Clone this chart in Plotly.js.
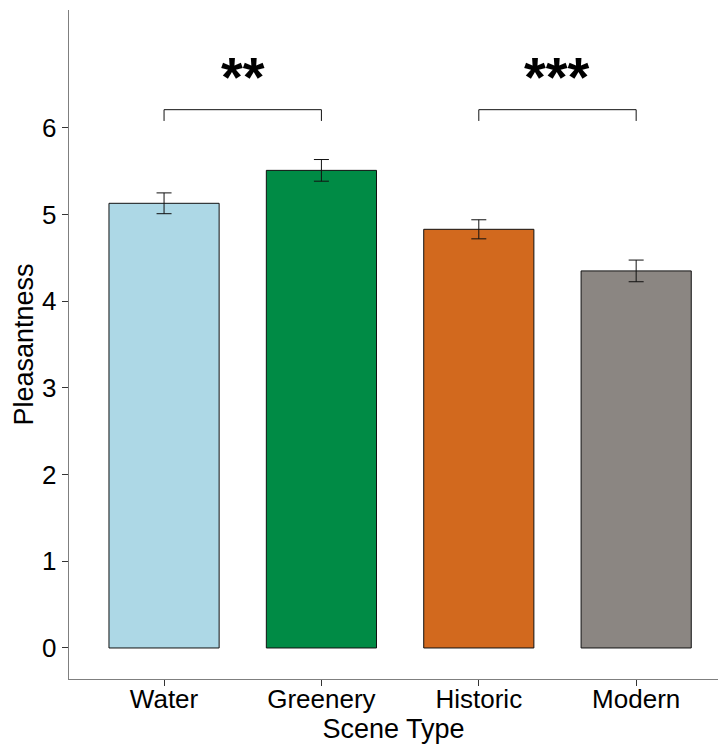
<!DOCTYPE html>
<html>
<head>
<meta charset="utf-8">
<script src="https://cdn.plot.ly/plotly-3.0.1.min.js"></script>
<style>
  html, body { margin: 0; padding: 0; background: #ffffff; }
  #chart { width: 718px; height: 744px; }
</style>
</head>
<body>
<div id="chart"></div>
<script>
// Mean pleasantness rating by scene type, with standard error
const categories = ["Water", "Greenery", "Historic", "Modern"];
const means = [5.13, 5.51, 4.83, 4.35];
const stdErrors = [0.12, 0.125, 0.11, 0.125];
const barColors = ["#ADD8E6", "#008B45", "#D2691E", "#8B8682"];

// Pairwise comparisons: [first index, second index, significance label]
const comparisons = [[0, 1, "**"], [2, 3, "***"]];
const bracketTop = 6.21;
const bracketFoot = 6.08;
const labelLevel = 6.595;

const yTicks = [0, 1, 2, 3, 4, 5, 6];

const font = "Liberation Sans, Arial, sans-serif";
const axisColor = "#7f7f7f";

const bars = {
  type: "bar",
  x: categories,
  y: means,
  width: 0.7,
  marker: { color: barColors, line: { color: "#111111", width: 1 } },
  error_y: {
    type: "data",
    array: stdErrors,
    visible: true,
    color: "#111111",
    thickness: 1,
    width: 7.5
  },
  hoverinfo: "x+y"
};

const shapes = [];
const annotations = [];
comparisons.forEach(([a, b, label]) => {
  shapes.push({
    type: "path",
    xref: "x", yref: "y",
    path: `M ${a},${bracketFoot} L ${a},${bracketTop} L ${b},${bracketTop} L ${b},${bracketFoot}`,
    line: { color: "#111111", width: 1 }
  });
  annotations.push({
    xref: "x", yref: "y",
    x: (a + b) / 2,
    y: labelLevel,
    text: "<b>" + label + "</b>",
    showarrow: false,
    yanchor: "middle",
    font: { family: font, size: 56, color: "#000000" }
  });
});

const layout = {
  width: 718,
  height: 744,
  margin: { l: 69, r: 0, t: 10, b: 65 },
  paper_bgcolor: "#ffffff",
  plot_bgcolor: "#ffffff",
  showlegend: false,
  bargap: 0.3,
  xaxis: {
    type: "category",
    range: [-0.604, 3.52],
    showline: true,
    linecolor: axisColor,
    linewidth: 1.3,
    ticks: "outside",
    ticklen: 6,
    tickcolor: "#333333",
    tickwidth: 1,
    ticklabelstandoff: -10,
    showgrid: false,
    zeroline: false,
    tickfont: { family: font, size: 26, color: "#000000" },
    title: { text: "Scene Type", font: { family: font, size: 27, color: "#000000" }, standoff: 2 }
  },
  yaxis: {
    range: [-0.358, 7.36],
    tickvals: yTicks,
    ticktext: yTicks.map(String),
    showline: true,
    linecolor: axisColor,
    linewidth: 1.3,
    ticks: "outside",
    ticklen: 6,
    tickcolor: "#333333",
    tickwidth: 1,
    showgrid: false,
    zeroline: false,
    tickfont: { family: font, size: 26, color: "#000000" },
    title: { text: "Pleasantness", font: { family: font, size: 27, color: "#000000" }, standoff: 0 }
  },
  shapes: shapes,
  annotations: annotations
};

Plotly.newPlot("chart", [bars], layout, { displayModeBar: false, staticPlot: true });
</script>
</body>
</html>
